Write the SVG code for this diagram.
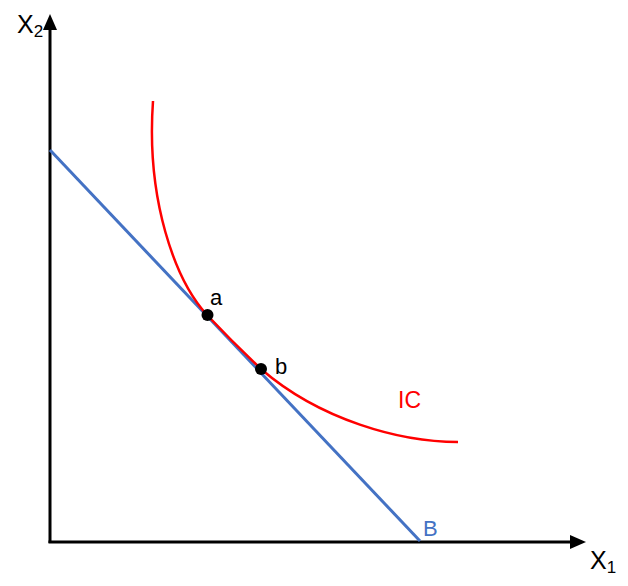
<svg xmlns="http://www.w3.org/2000/svg" width="628" height="586" viewBox="0 0 628 586">
<style>
.axis{stroke:#000;stroke-width:3;fill:none}
.lbl{font-family:"Liberation Sans",Arial,sans-serif;fill:#000}
.dot{fill:#000}
</style>
<rect width="628" height="586" fill="#fff"/>
<g id="connectors">
<g id="axes">
<line class="axis" x1="50" y1="543" x2="50" y2="26"/>
<polygon points="50,14 43,30 57,30" fill="#000"/>
<line class="axis" x1="48.5" y1="542" x2="574" y2="542"/>
<polygon points="586,542 570,535 570,549" fill="#000"/>
</g>
<line id="budget" x1="50" y1="150" x2="420" y2="541" stroke="#4472C4" stroke-width="3"/>
<path id="ic" d="M153,101 C146,200 175,280 207,315 C225,334 243,352 261,369 C320,420 400,442 458,442" fill="none" stroke="#FF0000" stroke-width="2.5"/>
</g>
<g id="point-a"><circle class="dot" cx="207.5" cy="315" r="6"/><text class="lbl" x="210" y="305" font-size="22">a</text></g>
<g id="point-b"><circle class="dot" cx="261" cy="369" r="6"/><text class="lbl" x="275" y="374" font-size="22">b</text></g>
<g id="label-x2"><text class="lbl" x="17" y="33" font-size="25">X<tspan font-size="17" dy="4">2</tspan></text></g>
<g id="label-x1"><text class="lbl" x="590" y="569" font-size="25">X<tspan font-size="17" dy="4">1</tspan></text></g>
<g id="label-ic"><text class="lbl" x="398" y="408" font-size="23" style="fill:#FF0000">IC</text></g>
<g id="label-b"><text class="lbl" x="423" y="536" font-size="22" style="fill:#4472C4">B</text></g>
</svg>
